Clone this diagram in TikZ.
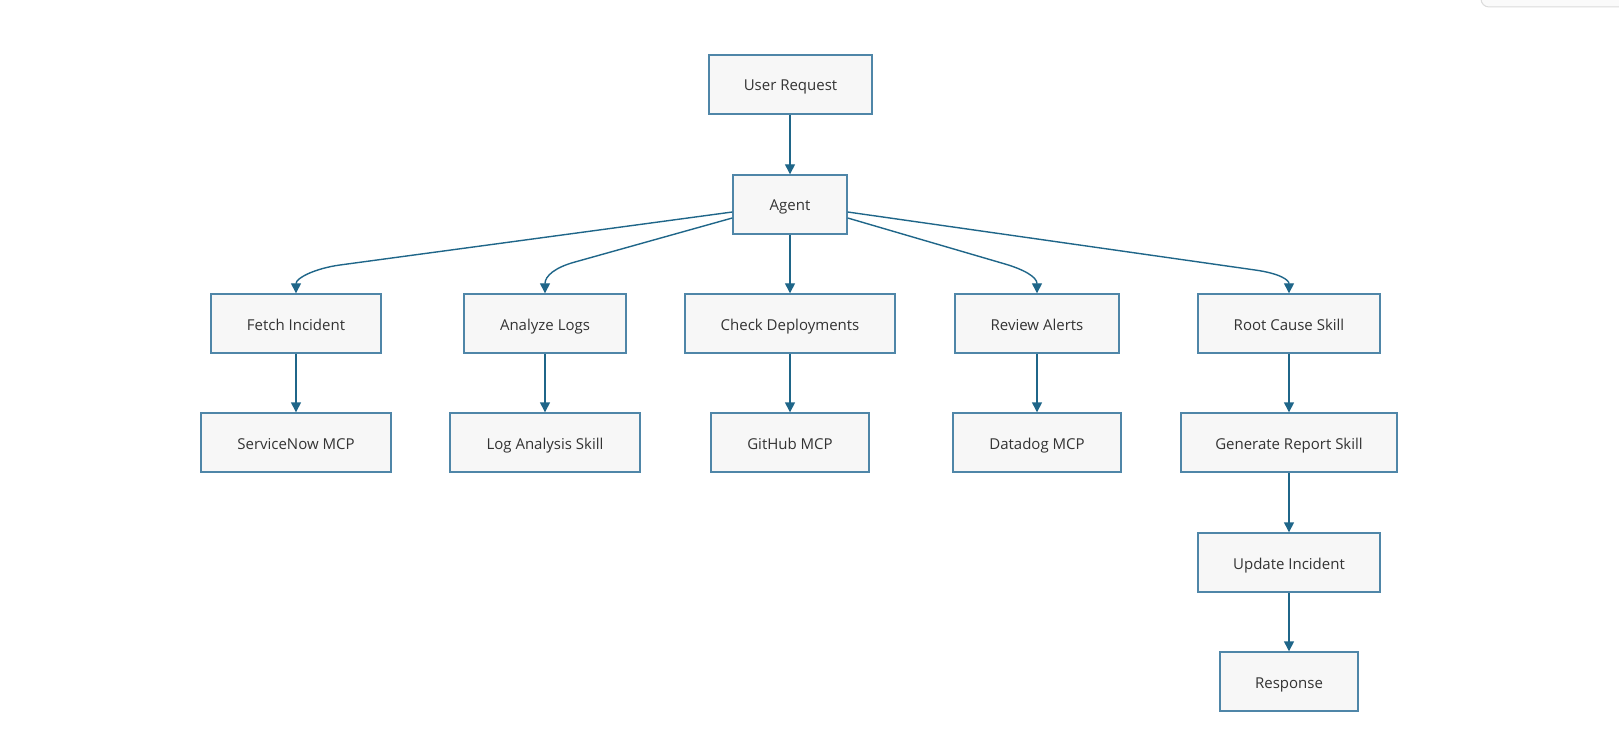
\documentclass[tikz,border=0pt]{standalone}
\usepackage{fontspec}
\setmainfont{Open Sans}
\usetikzlibrary{arrows.meta}
\definecolor{boxborder}{HTML}{4F86A8}
\definecolor{boxfill}{HTML}{F7F7F7}
\definecolor{edgecol}{HTML}{1F6689}
\definecolor{txt}{HTML}{333333}
\tikzset{
  box/.style={draw=boxborder, fill=boxfill, line width=1.4pt, minimum height=59pt,
    inner sep=0pt, text height=13pt, text depth=0pt, text=txt, font=\fontsize{15}{18}\selectfont},
  edge/.style={draw=edgecol, line width=1.4pt, -{Triangle[width=10pt,length=10pt]}},
}
\begin{document}
\begin{tikzpicture}[x=1pt,y=-1pt]
\useasboundingbox (0,0) rectangle (1619,743);
\fill[white] (0,0) rectangle (1619,743);
% UI artifact at top right
\draw[draw=black!14, fill=black!2, line width=1pt, rounded corners=8pt] (1481,-12) rectangle (1650,7);

\node[box, minimum width=163pt] (ur) at (790.5,84.5) {User Request};
\node[box, minimum width=114pt] (ag) at (790,204.5) {Agent};
\node[box, minimum width=170pt] (fi) at (296,323.5) {Fetch Incident};
\node[box, minimum width=162pt] (al) at (545,323.5) {Analyze Logs};
\node[box, minimum width=210pt] (cd) at (790,323.5) {Check Deployments};
\node[box, minimum width=164pt] (ra) at (1037,323.5) {Review Alerts};
\node[box, minimum width=182pt] (rc) at (1289,323.5) {Root Cause Skill};
\node[box, minimum width=190pt] (sn) at (296,442.5) {ServiceNow MCP};
\node[box, minimum width=190pt] (la) at (545,442.5) {Log Analysis Skill};
\node[box, minimum width=158pt] (gh) at (790,442.5) {GitHub MCP};
\node[box, minimum width=168pt] (dd) at (1037,442.5) {Datadog MCP};
\node[box, minimum width=216pt] (gr) at (1289,442.5) {Generate Report Skill};
\node[box, minimum width=182pt] (ui) at (1289,562.5) {Update Incident};
\node[box, minimum width=138pt] (rs) at (1289,681.5) {Response};

\draw[edge] (ur.south -| ag) -- (ag);
\draw[edge] (ag) -- (cd);
\draw[edge] ([yshift=-7.5pt]ag.west) -- (340,265) .. controls (315,268.4) and (296,278) .. (fi.north);
\draw[edge] ([yshift=-13.5pt]ag.west) -- (575,262) .. controls (555,267.4) and (545,276) .. (al.north);
\draw[edge] ([yshift=-13.5pt]ag.east) -- (1005,264) .. controls (1024,269.6) and (1037,277) .. (ra.north);
\draw[edge] ([yshift=-7.5pt]ag.east) -- (1255,270) .. controls (1280,273.5) and (1289,280) .. (rc.north);
\draw[edge] (fi) -- (sn);
\draw[edge] (al) -- (la);
\draw[edge] (cd) -- (gh);
\draw[edge] (ra) -- (dd);
\draw[edge] (rc) -- (gr);
\draw[edge] (gr) -- (ui);
\draw[edge] (ui) -- (rs);
\end{tikzpicture}
\end{document}
